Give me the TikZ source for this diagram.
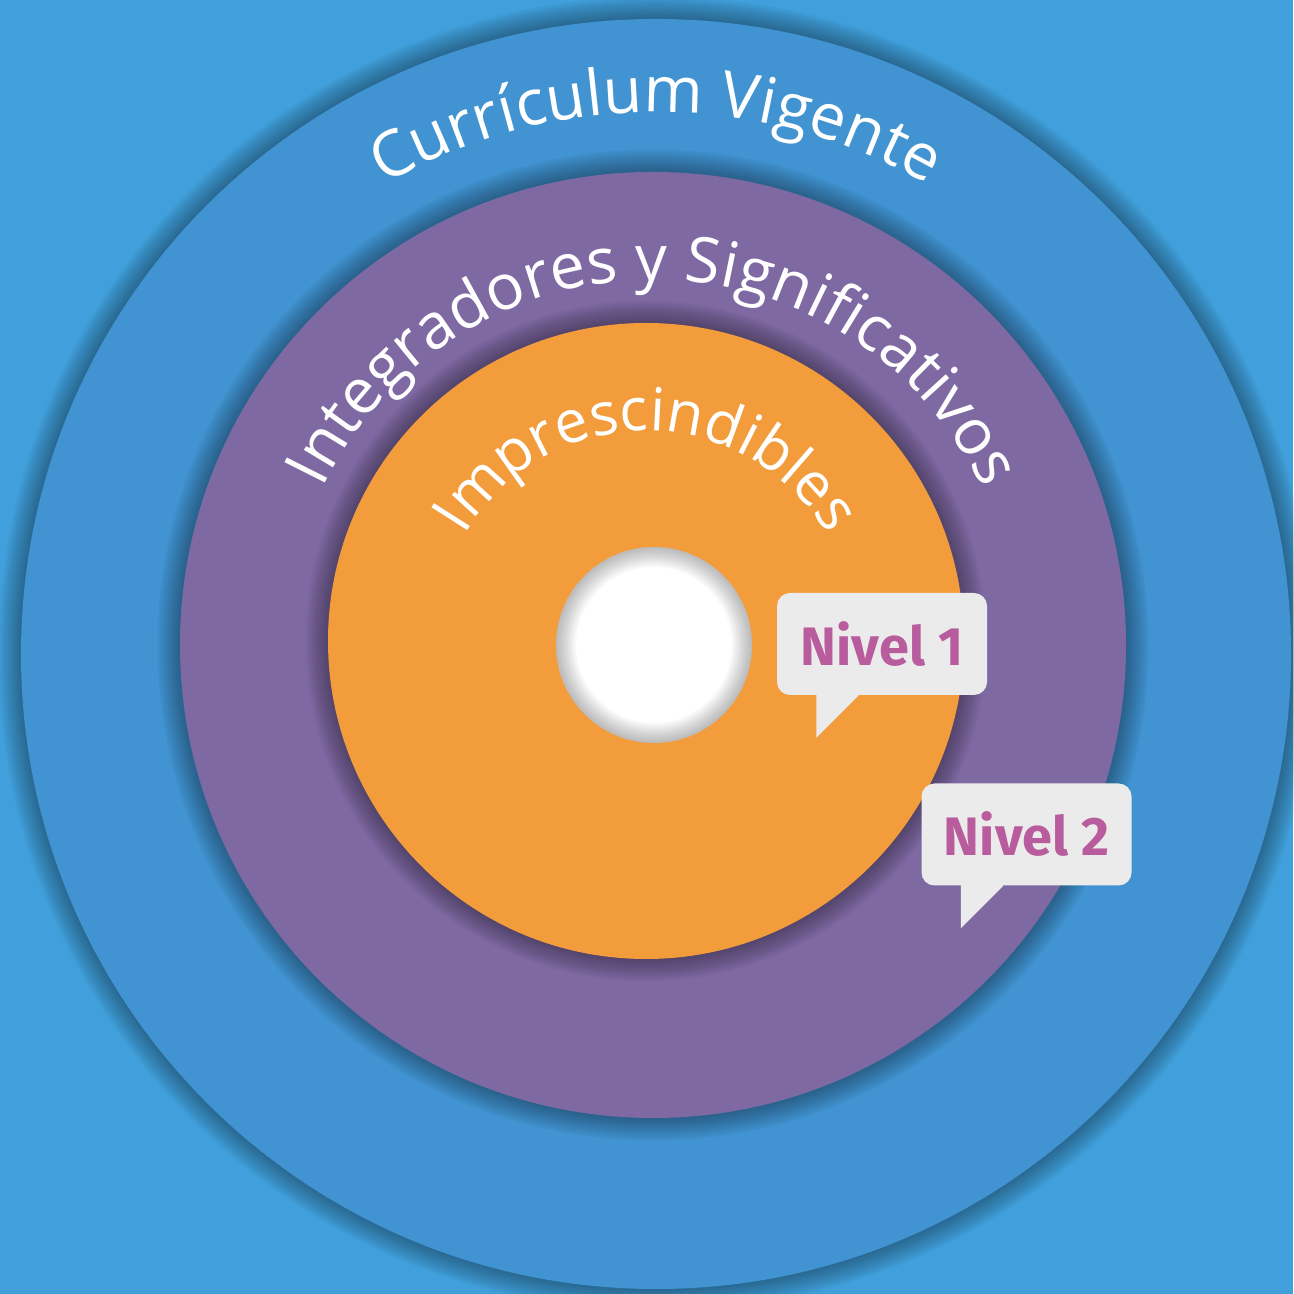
\documentclass[tikz,border=0pt]{standalone}
\usepackage{fontspec}
\setmainfont{Open Sans}
\newfontfamily\nivelfont{Fira Sans}
\usepackage{tikz}
\usetikzlibrary{calc, positioning, decorations.text}
\definecolor{fondo}{HTML}{41A0DB}
\definecolor{azul}{HTML}{4193D1}
\definecolor{morado}{HTML}{7F69A3}
\definecolor{naranja}{HTML}{F39C3B}
\definecolor{globo}{HTML}{EBEBEB}
\definecolor{rosa}{HTML}{B85C9E}

\begin{document}
\begin{tikzpicture}
			\tikzset{
				sombra/.style={black, opacity=0.035},
				globotexto/.style={fill=globo, rounded corners=0.13cm, minimum width=2.1cm, minimum height=1.02cm, inner sep=0pt, text=rosa, font=\nivelfont\bfseries\fontsize{15.4}{16}\selectfont}
			}
			\useasboundingbox (0,0) rectangle (12.93,12.94);
			\fill[fondo] (0,0) rectangle (12.93,12.94);
			\coordinate (c0) at (6.56,6.40);
			\coordinate (c1) at (6.53,6.49);
			\coordinate (c2) at (6.46,6.53);
			\coordinate (c3) at (6.54,6.49);
			\foreach \k in {1,...,10}
				\draw[sombra, line width=\k*0.045cm] (c0) circle (6.35);
			\fill[azul] (c0) circle (6.35);
			\foreach \k in {1,...,10}
				\draw[sombra, line width=\k*0.045cm] (c1) circle (4.73);
			\fill[morado] (c1) circle (4.73);
			\foreach \k in {1,...,10}
				\draw[sombra, line width=\k*0.045cm] (c2) circle (3.18);
			\fill[naranja] (c2) circle (3.18);
			\fill[white] (c3) circle (0.98);
			\begin{scope}
				\clip (c3) circle (0.98);
				\foreach \k in {1,...,10}
					\draw[black, opacity=0.028, line width=\k*0.04cm] (c3) circle (0.98);
			\end{scope}
			\path[decorate, decoration={text along path, text align=center, text color=white,
				text={|\fontsize{18.1}{20}\selectfont|Currículum Vigente}}]
				($(c0)+(180:5.42)$) arc[start angle=180, end angle=0, radius=5.42];
			\path[decorate, decoration={text along path, text align=center, text color=white,
				text={|\fontsize{18}{20}\selectfont|Integradores y Significativos}}]
				($(c1)+(180:3.65)$) arc[start angle=180, end angle=0, radius=3.65];
			\path[decorate, decoration={text along path, text align=center, text color=white,
				text={|\fontsize{16.9}{18}\selectfont|Imprescindibles}}]
				($(c2)+(180:2.10)$) arc[start angle=180, end angle=0, radius=2.10];
			\node[globotexto] (nivel1) at (8.82,6.50) {Nivel 1};
			\node[globotexto] (nivel2) at (10.265,4.595) {Nivel 2};
			\foreach \n in {nivel1,nivel2}
				\fill[globo] ([xshift=0.40cm, yshift=0.05cm]\n.south west) -- ([xshift=0.82cm, yshift=0.05cm]\n.south west) -- ([xshift=0.82cm]\n.south west) -- ([xshift=0.40cm, yshift=-0.42cm]\n.south west) -- cycle;
		\end{tikzpicture}
\end{document}
